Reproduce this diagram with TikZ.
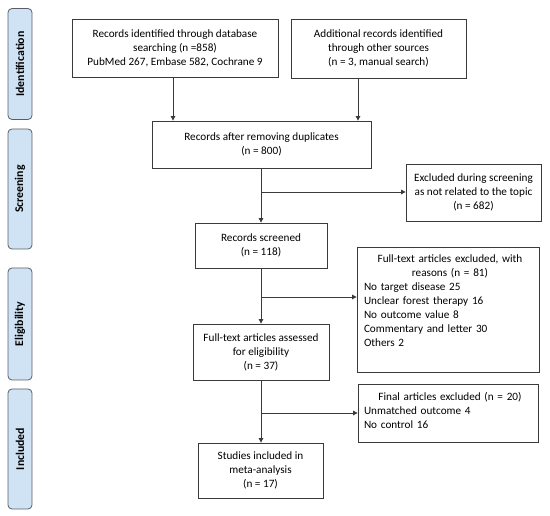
\documentclass[tikz,border=0pt]{standalone}
\usepackage{fontspec}
\setmainfont{Carlito}
\usetikzlibrary{arrows.meta}
\definecolor{sidefill}{HTML}{CFE3F5}
\definecolor{sideedge}{HTML}{5A5F66}
\definecolor{lineclr}{HTML}{3A3A3A}
\tikzset{
  box/.style={draw=lineclr, line width=0.8pt, fill=white, inner sep=0pt, align=center,
    font=\fontsize{11.2}{14}\selectfont},
  sidebox/.style={draw=sideedge, line width=0.8pt, fill=sidefill, rounded corners=4pt, inner sep=0pt},
  sidetext/.style={rotate=90, font=\fontsize{11.8}{13}\selectfont\bfseries},
  listtext/.style={inner sep=0pt, align=left, text width=172pt, font=\fontsize{11.2}{14}\selectfont},
  arr/.style={draw=lineclr, line width=0.9pt, -{Triangle[length=4.5pt,width=4.5pt]}},
  ln/.style={draw=lineclr, line width=0.9pt}
}
\begin{document}
\begin{tikzpicture}[x=1pt,y=-1pt]
\useasboundingbox (0,0) rectangle (550,516);
% side labels
\node[sidebox, minimum width=24pt, minimum height=111pt] (s1) at (20,64) {};
\node[sidetext] (t1) at (s1.center) {Identification};
\node[sidebox, minimum width=24pt, minimum height=120pt] (s2) at (20,189) {};
\node[sidetext] (t2) at (s2.center) {Screening};
\node[sidebox, minimum width=24pt, minimum height=112pt] (s3) at (20,324) {};
\node[sidetext] (t3) at (s3.center) {Eligibility};
\node[sidebox, minimum width=24pt, minimum height=120pt] (s4) at (20,449) {};
\node[sidetext] (t4) at (s4.center) {Included};
% boxes
\node[box, minimum width=206pt, minimum height=58pt] (b1) at (175,48)
  {Records identified through database\\searching (n =858)\\PubMed 267, Embase 582, Cochrane 9};
\node[box, minimum width=175pt, minimum height=59pt] (b2) at (378.5,48.5)
  {Additional records identified\\through other sources\\(n = 3, manual search)};
\node[box, minimum width=219pt, minimum height=47pt] (b3) at (261.5,144.5)
  {Records after removing duplicates\\(n = 800)};
\node[box, minimum width=135pt, minimum height=57pt] (b4) at (473.5,192.5)
  {Excluded during screening\\as not related to the topic\\(n = 682)};
\node[box, minimum width=132pt, minimum height=45pt] (b5) at (261,245.5)
  {Records screened\\(n = 118)};
\node[box, minimum width=182pt, minimum height=125pt] (b6) at (448,309.5) {};
\node[listtext, anchor=north] (l6) at (450,255)
  {{\centering Full-text articles excluded, with\\reasons (n = 81)\par}
   No target disease 25\\Unclear forest therapy 16\\No outcome value 8\\Commentary and letter 30\\Others 2};
\node[box, minimum width=136pt, minimum height=56pt] (b7) at (261,352)
  {Full-text articles assessed\\for eligibility\\(n = 37)};
\node[box, minimum width=180pt, minimum height=58pt] (b8) at (448,413) {};
\node[listtext, anchor=north] (l8) at (450,392)
  {{\centering Final articles excluded (n = 20)\par}
   Unmatched outcome 4\\No control 16};
\node[box, minimum width=125pt, minimum height=55pt] (b9) at (260.5,470.5)
  {Studies included in\\meta-analysis\\(n = 17)};
% connectors
\coordinate (c1) at (173,0);
\coordinate (c2) at (358,0);
\coordinate (j1) at (261,192);
\coordinate (j2) at (261,297);
\coordinate (j3) at (261,413);
\draw[arr] (b1.south -| c1) -- (b3.north -| c1);
\draw[arr] (b2.south -| c2) -- (b3.north -| c2);
\draw[arr] (b3.south -| j1) -- (b5.north -| j1);
\draw[arr] (j1) -- (b4.west |- j1);
\draw[arr] (b5.south -| j2) -- (b7.north -| j2);
\draw[arr] (j2) -- (b6.west |- j2);
\draw[arr] (b7.south -| j3) -- (b9.north -| j3);
\draw[arr] (j3) -- (b8.west |- j3);
\end{tikzpicture}
\end{document}
